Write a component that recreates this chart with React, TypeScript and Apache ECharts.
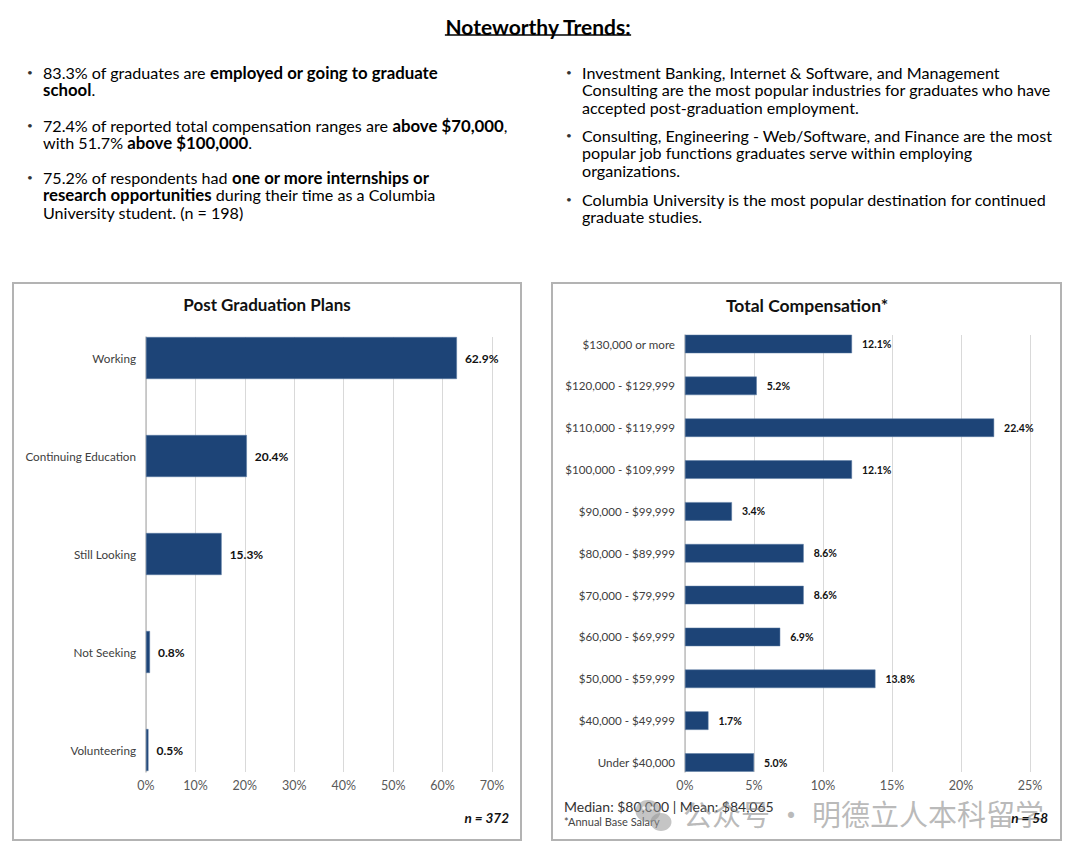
import React, { useEffect, useRef } from "react";
import * as echarts from "echarts";

const FONT = 'Lato, "Noto Sans", "DejaVu Sans", sans-serif';

const postCategories = ["Working", "Continuing Education", "Still Looking", "Not Seeking", "Volunteering"];
const postValues = [62.9, 20.4, 15.3, 0.8, 0.5];
const postAxis = { min: 0, max: 70, interval: 10 };

const compCategories = [
  "$130,000 or more",
  "$120,000 - $129,999",
  "$110,000 - $119,999",
  "$100,000 - $109,999",
  "$90,000 - $99,999",
  "$80,000 - $89,999",
  "$70,000 - $79,999",
  "$60,000 - $69,999",
  "$50,000 - $59,999",
  "$40,000 - $49,999",
  "Under $40,000",
];
const compValues = [12.1, 5.2, 22.4, 12.1, 3.4, 8.6, 8.6, 6.9, 13.8, 1.7, 5.0];
const compAxis = { min: 0, max: 25, interval: 5 };

const pageTitle = "Noteworthy Trends:";
const leftBullets = [
  ["{r|83.3% of graduates are }{b|employed or going to graduate}", "{b|school}{r|.}"],
  ["{r|72.4% of reported total compensation ranges are }{b|above $70,000}{r|,}", "{r|with 51.7% }{b|above $100,000}{r|.}"],
  [
    "{r|75.2% of respondents had }{b|one or more internships or}",
    "{b|research opportunities}{r| during their time as a Columbia}",
    "{r|University student. (n = 198)}",
  ],
];
const rightBullets = [
  [
    "Investment Banking, Internet & Software, and Management",
    "Consulting are the most popular industries for graduates who have",
    "accepted post-graduation employment.",
  ],
  [
    "Consulting, Engineering - Web/Software, and Finance are the most",
    "popular job functions graduates serve within employing",
    "organizations.",
  ],
  ["Columbia University is the most popular destination for continued", "graduate studies."],
];
const leftBulletY = [72, 125, 177];
const rightBulletY = [72, 135, 199];

const leftTitle = "Post Graduation Plans";
const rightTitle = "Total Compensation*";
const leftN = "n = 372";
const rightN = "n = 58";
const summaryText = "Median: $80,000 | Mean: $84,065";
const footnoteText = "*Annual Base Salary";
const watermarkText = "公众号 · 明德立人本科留学";

const BAR = "#1d4477";
const LH = 17.9;

function measure(text: string, font: string): number {
  const c = document.createElement("canvas").getContext("2d");
  if (!c) return text.length * 10;
  c.font = font;
  return c.measureText(text).width;
}

export default function App() {
  const ref = useRef<HTMLDivElement>(null);

  useEffect(() => {
    if (!ref.current) return;
    const chart = echarts.init(ref.current, null, { renderer: "svg" });

    const richStyles = {
      r: { fontFamily: FONT, fontSize: 16.1, color: "#3d3d3d", lineHeight: LH },
      b: { fontFamily: FONT, fontSize: 16.8, fontWeight: "bold", color: "#000", lineHeight: LH },
    };

    const graphics: any[] = [];
    const titleFont = `bold 21px ${FONT}`;
    const tw = measure(pageTitle, titleFont);
    graphics.push({
      type: "text",
      x: 538,
      y: 26,
      style: { text: pageTitle, font: titleFont, fill: "#000", align: "center", verticalAlign: "middle" },
    });
    graphics.push({
      type: "line",
      shape: { x1: 538 - tw / 2, y1: 35, x2: 538 + tw / 2, y2: 35 },
      style: { stroke: "#000", lineWidth: 1.4 },
    });

    leftBullets.forEach((lines, i) => {
      graphics.push({
        type: "text",
        x: 30,
        y: leftBulletY[i],
        style: { text: "•", fontSize: 10, fontFamily: FONT, fill: "#333", align: "center", verticalAlign: "middle" },
      });
      graphics.push({
        type: "text",
        x: 43,
        y: leftBulletY[i] - LH / 2,
        style: { text: lines.join("\n"), rich: richStyles, align: "left", verticalAlign: "top" },
      });
    });
    rightBullets.forEach((lines, i) => {
      graphics.push({
        type: "text",
        x: 569,
        y: rightBulletY[i],
        style: { text: "•", fontSize: 10, fontFamily: FONT, fill: "#333", align: "center", verticalAlign: "middle" },
      });
      graphics.push({
        type: "text",
        x: 582,
        y: rightBulletY[i] - LH / 2,
        style: {
          text: lines.map((l) => `{r|${l}}`).join("\n"),
          rich: richStyles,
          align: "left",
          verticalAlign: "top",
        },
      });
    });

    graphics.push({
      type: "rect",
      shape: { x: 13, y: 283, width: 508, height: 557 },
      style: { fill: "none", stroke: "#b3b3b3", lineWidth: 2 },
      z: -10,
    });
    graphics.push({
      type: "rect",
      shape: { x: 552, y: 283, width: 509, height: 557 },
      style: { fill: "none", stroke: "#b3b3b3", lineWidth: 2 },
      z: -10,
    });
    graphics.push({
      type: "text",
      x: 267,
      y: 304,
      style: { text: leftTitle, font: `bold 17px ${FONT}`, fill: "#111", align: "center", verticalAlign: "middle" },
    });
    graphics.push({
      type: "text",
      x: 807,
      y: 305,
      style: { text: rightTitle, font: `bold 17.5px ${FONT}`, fill: "#111", align: "center", verticalAlign: "middle" },
    });
    graphics.push({
      type: "text",
      x: 509,
      y: 818,
      style: { text: leftN, font: `italic bold 13.5px ${FONT}`, fill: "#111", align: "right", verticalAlign: "middle" },
    });
    graphics.push({
      type: "text",
      x: 564,
      y: 806,
      style: { text: summaryText, font: `14px ${FONT}`, fill: "#333", align: "left", verticalAlign: "middle" },
    });
    graphics.push({
      type: "text",
      x: 564,
      y: 821,
      style: { text: footnoteText, font: `11px ${FONT}`, fill: "#444", align: "left", verticalAlign: "middle" },
    });
    // watermark
    graphics.push({
      type: "group",
      z: 50,
      children: [
        { type: "ellipse", shape: { cx: 648, cy: 811, rx: 12.5, ry: 11 }, style: { fill: "rgba(150,150,150,0.55)" } },
        { type: "ellipse", shape: { cx: 661, cy: 822, rx: 10.5, ry: 9 }, style: { fill: "rgba(150,150,150,0.55)" } },
        { type: "circle", shape: { cx: 644, cy: 808, r: 1.7 }, style: { fill: "rgba(255,255,255,0.8)" } },
        { type: "circle", shape: { cx: 652, cy: 808, r: 1.7 }, style: { fill: "rgba(255,255,255,0.8)" } },
        {
          type: "text",
          x: 683,
          y: 813,
          style: {
            text: watermarkText,
            font: `29px "Noto Sans CJK SC", sans-serif`,
            fill: "rgba(140,140,140,0.6)",
            align: "left",
            verticalAlign: "middle",
          },
        },
      ],
    });
    graphics.push({
      type: "text",
      x: 1048,
      y: 818,
      z: 60,
      style: { text: rightN, font: `italic bold 13.5px ${FONT}`, fill: "#111", align: "right", verticalAlign: "middle" },
    });

    const hiddenX = (a: any) => ({
      type: "value",
      min: a.min,
      max: a.max,
      interval: a.interval,
      show: false,
    });
    const frameX = (a: any, gi: number) => ({
      type: "value",
      gridIndex: gi,
      min: a.min,
      max: a.max,
      interval: a.interval,
      axisLine: { show: false },
      axisTick: { show: false },
      splitLine: { show: true, lineStyle: { color: "#d9d9d9", width: 1 } },
      axisLabel: { formatter: "{value}%", color: "#595959", fontSize: 12.5, fontFamily: FONT, margin: 7 },
    });
    const catY = (cats: string[], gi: number, size: number) => ({
      type: "category",
      gridIndex: gi,
      data: cats,
      inverse: true,
      boundaryGap: false,
      axisLine: { show: false },
      axisTick: { show: false },
      splitLine: { show: false },
      axisLabel: { color: "#404040", fontSize: size, fontFamily: FONT, margin: 10 },
    });
    const frameY = (gi: number) => ({
      type: "value",
      gridIndex: gi,
      min: 0,
      max: 1,
      axisLine: { show: true, lineStyle: { color: "#bfbfbf", width: 1.5 } },
      axisTick: { show: false },
      axisLabel: { show: false },
      splitLine: { show: false },
    });

    const label = (size: number, dist: number) => ({
      show: true,
      position: "right",
      distance: dist,
      formatter: (p: any) => `${Number(p.value).toFixed(1)}%`,
      fontFamily: FONT,
      fontWeight: "bold",
      fontSize: size,
      color: "#111",
    });

    chart.setOption({
      animation: false,
      backgroundColor: "#fff",
      grid: [
        { left: 146, right: 588, top: 358, height: 392 },
        { left: 146, right: 588, top: 337, height: 435 },
        { left: 685, right: 50, top: 344, height: 418.5 },
        { left: 685, right: 50, top: 335, height: 437 },
      ],
      xAxis: [
        { ...hiddenX(postAxis), gridIndex: 0 },
        frameX(postAxis, 1),
        { ...hiddenX(compAxis), gridIndex: 2 },
        frameX(compAxis, 3),
      ],
      yAxis: [catY(postCategories, 0, 11.7), frameY(1), catY(compCategories, 2, 11.6), frameY(3)],
      series: [
        {
          type: "bar",
          xAxisIndex: 0,
          yAxisIndex: 0,
          data: postValues,
          barWidth: 42,
          itemStyle: { color: BAR, borderColor: "#5b7aa3", borderWidth: 0.5 },
          label: label(12, 8),
          z: 5,
        },
        {
          type: "bar",
          xAxisIndex: 2,
          yAxisIndex: 2,
          data: compValues,
          barWidth: 18.5,
          itemStyle: { color: BAR, borderColor: "#5b7aa3", borderWidth: 0.5 },
          label: label(10.5, 10),
          z: 5,
        },
      ],
      graphic: graphics,
    });

    return () => chart.dispose();
  }, []);

  return <div ref={ref} style={{ position: "absolute", left: 0, top: 0, width: 1080, height: 855 }} />;
}
